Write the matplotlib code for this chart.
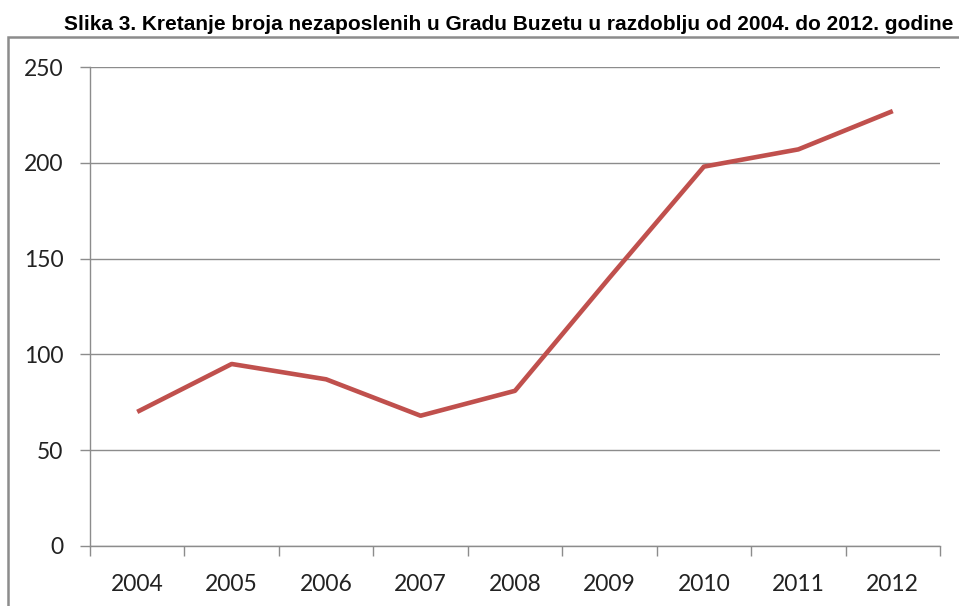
import matplotlib.pyplot as plt
from matplotlib.patches import Rectangle
import numpy as np

# Broj nezaposlenih u Gradu Buzetu
godine = ["2004", "2005", "2006", "2007", "2008", "2009", "2010", "2011", "2012"]
nezaposleni = [70, 95, 87, 68, 81, 140, 198, 207, 227]
y_ticks = [0, 50, 100, 150, 200, 250]

W, H = 959, 606
fig = plt.figure(figsize=(W / 100, H / 100), dpi=100)

# okvir grafikona (Excel)
fig.patches.append(Rectangle((8 / W, -0.1), 1.2, (H - 37) / H + 0.1,
                             transform=fig.transFigure, fill=False,
                             edgecolor="#8c8c8c", linewidth=1.8))

fig.text(953 / W, 1 - 25 / H,
         "Slika 3. Kretanje broja nezaposlenih u Gradu Buzetu u razdoblju od 2004. do 2012. godine",
         ha="right", va="center", fontsize=15.0, fontweight="bold",
         family="Liberation Sans")

ax = fig.add_axes([90 / W, 60 / H, 850 / W, 479 / H])
x = np.arange(len(godine))
ax.plot(x, nezaposleni, color="#C0504D", linewidth=3.3, solid_capstyle="butt")

ax.set_xlim(-0.5, len(godine) - 0.5)
ax.set_ylim(0, 250)
ax.set_yticks(y_ticks)
ax.set_yticklabels([str(v) for v in y_ticks], family="Lato", fontsize=16.5)
ax.set_xticks(x)
ax.set_xticklabels(godine, family="Lato", fontsize=16.5)
ax.set_xticks(np.arange(len(godine) + 1) - 0.5, minor=True)

ax.grid(axis="y", color="#8c8c8c", linewidth=1.0)
ax.set_axisbelow(True)
for s in ["top", "right"]:
    ax.spines[s].set_visible(False)
for s in ["left", "bottom"]:
    ax.spines[s].set_color("#8c8c8c")
    ax.spines[s].set_linewidth(1.0)

ax.tick_params(axis="x", which="major", length=0, pad=20, colors="#222222")
ax.tick_params(axis="x", which="minor", length=7, color="#8c8c8c", width=1.0)
ax.tick_params(axis="y", length=7, color="#8c8c8c", width=1.0, pad=12,
               labelcolor="#222222")

fig.savefig("out.png", dpi=100)
